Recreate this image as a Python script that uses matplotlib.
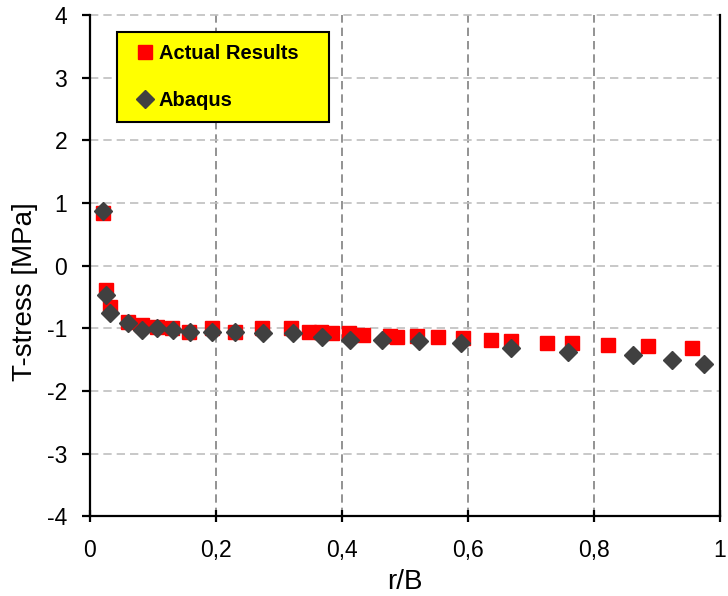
import matplotlib
matplotlib.use("Agg")
import matplotlib.pyplot as plt
from matplotlib.ticker import FuncFormatter

# Actual Results (red squares)
actual_r = [0.020, 0.025, 0.031, 0.060, 0.083, 0.106, 0.130, 0.157, 0.194, 0.230,
            0.273, 0.319, 0.348, 0.366, 0.384, 0.411, 0.433, 0.476, 0.487, 0.519,
            0.552, 0.592, 0.637, 0.668, 0.725, 0.765, 0.823, 0.885, 0.956]
actual_t = [0.84, -0.39, -0.66, -0.90, -0.94, -0.98, -0.99, -1.05, -1.00, -1.05,
            -0.99, -0.99, -1.06, -1.05, -1.07, -1.08, -1.11, -1.12, -1.14, -1.12,
            -1.14, -1.15, -1.18, -1.20, -1.23, -1.23, -1.26, -1.28, -1.31]

# Abaqus (dark diamonds)
abaqus_r = [0.020, 0.025, 0.031, 0.060, 0.083, 0.107, 0.131, 0.158, 0.194, 0.230,
            0.275, 0.323, 0.369, 0.413, 0.463, 0.522, 0.589, 0.668, 0.759, 0.862,
            0.924, 0.975]
abaqus_t = [0.875, -0.46, -0.75, -0.92, -1.02, -1.00, -1.03, -1.06, -1.06, -1.05,
            -1.07, -1.08, -1.14, -1.19, -1.19, -1.20, -1.23, -1.31, -1.38, -1.43,
            -1.50, -1.56]

x_ticks = [0, 0.2, 0.4, 0.6, 0.8, 1.0]
y_ticks = [-4, -3, -2, -1, 0, 1, 2, 3, 4]

plt.rcParams["font.family"] = ["Liberation Sans", "DejaVu Sans"]

fig = plt.figure(figsize=(7.28, 5.96), dpi=100)
ax = fig.add_axes([0.1236, 0.1334, 0.8654, 0.8414])

ax.plot(actual_r, actual_t, ls="none", marker="s", ms=10.5, color="#FF0000",
        mec="#FF0000", label="Actual Results", zorder=3)
ax.plot(abaqus_r, abaqus_t, ls="none", marker="D", ms=9.5, color="#404040",
        mec="#404040", label="Abaqus", zorder=4)

ax.set_xlim(0, 1)
ax.set_ylim(-4, 4)
ax.set_xticks(x_ticks)
ax.set_yticks(y_ticks)
fmt = FuncFormatter(lambda v, p: ("%g" % v).replace(".", ","))
ax.xaxis.set_major_formatter(fmt)
ax.yaxis.set_major_formatter(fmt)

ax.yaxis.grid(True, color="#BFBFBF", ls=(0, (5, 3)), lw=1.2, clip_on=False)
ax.xaxis.grid(True, color="#808080", ls=(0, (5, 3)), lw=1.2)
ax.set_axisbelow(True)

ax.spines["top"].set_visible(False)
for s in ["left", "right", "bottom"]:
    ax.spines[s].set_linewidth(1.6)
    ax.spines[s].set_color("black")

ax.tick_params(axis="y", direction="out", length=5.5, width=1.6, pad=11,
               labelsize=16.5)
ax.tick_params(axis="x", direction="inout", length=9, width=1.6, pad=12,
               labelsize=16.5)

ax.set_xlabel("r/B", fontsize=20, labelpad=5)
ax.set_ylabel("T-stress [MPa]", fontsize=20)
ax.yaxis.set_label_coords(-0.0824, 0.4477)

leg = ax.legend(loc="upper left", bbox_to_anchor=(0.0424, 0.786, 0.3375, 0.1807),
                mode="expand", frameon=True, fancybox=False, framealpha=1,
                facecolor="#FFFF00", edgecolor="black",
                prop={"weight": "bold", "size": 14.5},
                handlelength=1.6, handletextpad=-0.1, labelspacing=1.4,
                borderpad=0.6, borderaxespad=0, markerscale=1.0)
leg.get_frame().set_linewidth(1.5)

fig.savefig("out.png", dpi=100)
